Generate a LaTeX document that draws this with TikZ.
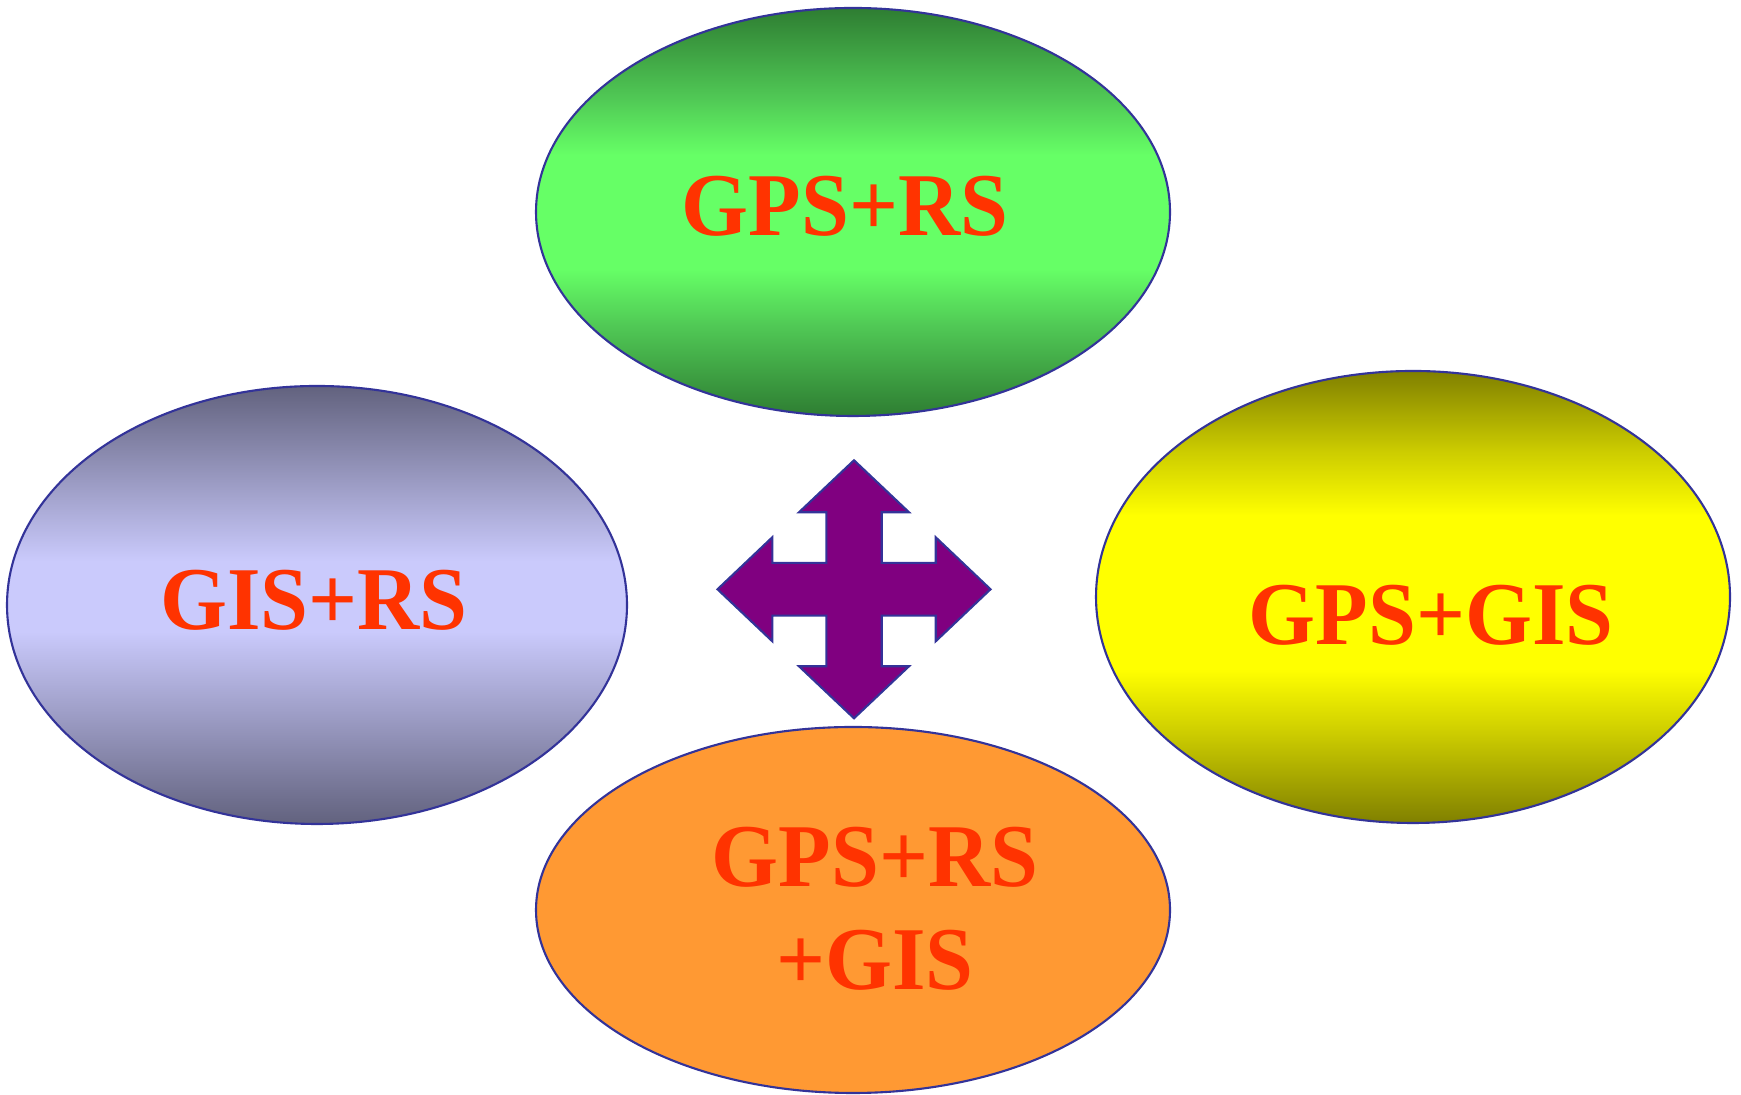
\documentclass[tikz,border=0pt]{standalone}
\usepackage{fontspec}
\usepackage{graphicx}
\setmainfont{Liberation Serif}
\usetikzlibrary{shapes.geometric}
\pgfdeclarelayer{edgelayer}
\pgfdeclarelayer{nodelayer}
\pgfsetlayers{edgelayer,nodelayer,main}
\definecolor{ovalline}{RGB}{51,51,153}
\definecolor{labelred}{RGB}{255,51,0}
\definecolor{crossfill}{RGB}{128,0,128}
\definecolor{greendark}{RGB}{46,125,50}
\definecolor{greenmid}{RGB}{80,200,85}
\definecolor{greenlight}{RGB}{102,255,102}
\definecolor{lavdark}{RGB}{98,98,126}
\definecolor{lavlight}{RGB}{202,202,252}
\definecolor{yeldark}{RGB}{128,128,0}
\definecolor{yelmid}{RGB}{205,205,0}
\definecolor{yellight}{RGB}{255,255,0}
\definecolor{orangefill}{RGB}{255,153,51}
\pgfdeclareverticalshading{greenband}{100bp}{color(0bp)=(greendark); color(25bp)=(greendark); color(36bp)=(greenmid); color(43bp)=(greenlight); color(57bp)=(greenlight); color(64bp)=(greenmid); color(75bp)=(greendark); color(100bp)=(greendark)}
\pgfdeclareverticalshading{lavband}{100bp}{color(0bp)=(lavdark); color(25bp)=(lavdark); color(47bp)=(lavlight); color(55bp)=(lavlight); color(75bp)=(lavdark); color(100bp)=(lavdark)}
\pgfdeclareverticalshading{yelband}{100bp}{color(0bp)=(yeldark); color(25bp)=(yeldark); color(35bp)=(yelmid); color(42bp)=(yellight); color(59bp)=(yellight); color(66bp)=(yelmid); color(75bp)=(yeldark); color(100bp)=(yeldark)}
\newcommand{\narrow}[1]{\scalebox{0.96}[1]{#1}}
\tikzset{font=\fontsize{25.5}{29.2}\selectfont\bfseries}
\tikzstyle{oval}=[ellipse,draw=ovalline,line width=0.6pt,inner sep=0pt]
\tikzstyle{lbl}=[inner sep=0pt,text=labelred,align=center]

\begin{document}
\begin{tikzpicture}
	\useasboundingbox (0,0) rectangle (17.41,10.95);
	\begin{pgfonlayer}{nodelayer}
		\node [style=oval,shading=greenband,minimum width=6.34cm,minimum height=4.08cm] (0) at (8.53, 8.83) {};
		\node [style=oval,shading=lavband,minimum width=6.2cm,minimum height=4.38cm] (1) at (3.17, 4.90) {};
		\node [style=oval,shading=yelband,minimum width=6.34cm,minimum height=4.52cm] (2) at (14.13, 4.98) {};
		\node [style=oval,fill=orangefill,minimum width=6.34cm,minimum height=3.66cm] (3) at (8.53, 1.85) {};
		\node [style=lbl,anchor=base] (4) at (8.45, 8.59) {\narrow{GPS+RS}};
		\node [style=lbl,anchor=base] (5) at (3.14, 4.655) {\narrow{GIS+RS}};
		\node [style=lbl,anchor=base] (6) at (14.31, 4.505) {\narrow{GPS+GIS}};
		\node [style=lbl] (7) at (8.75, 1.86) {\narrow{GPS+RS}\\\narrow{+GIS}};
	\end{pgfonlayer}
	\begin{pgfonlayer}{edgelayer}
		\draw [fill=crossfill,draw=ovalline,line width=0.6pt,shift={(8.54,5.057)}]
			(0,1.29) -- (0.55,0.77) -- (0.277,0.77) -- (0.277,0.264) -- (0.817,0.264) -- (0.817,0.52)
			-- (1.365,0) -- (0.817,-0.52) -- (0.817,-0.264) -- (0.277,-0.264) -- (0.277,-0.77) -- (0.55,-0.77)
			-- (0,-1.29) -- (-0.55,-0.77) -- (-0.277,-0.77) -- (-0.277,-0.264) -- (-0.817,-0.264) -- (-0.817,-0.52)
			-- (-1.365,0) -- (-0.817,0.52) -- (-0.817,0.264) -- (-0.277,0.264) -- (-0.277,0.77) -- (-0.55,0.77) -- cycle;
	\end{pgfonlayer}
\end{tikzpicture}
\end{document}
